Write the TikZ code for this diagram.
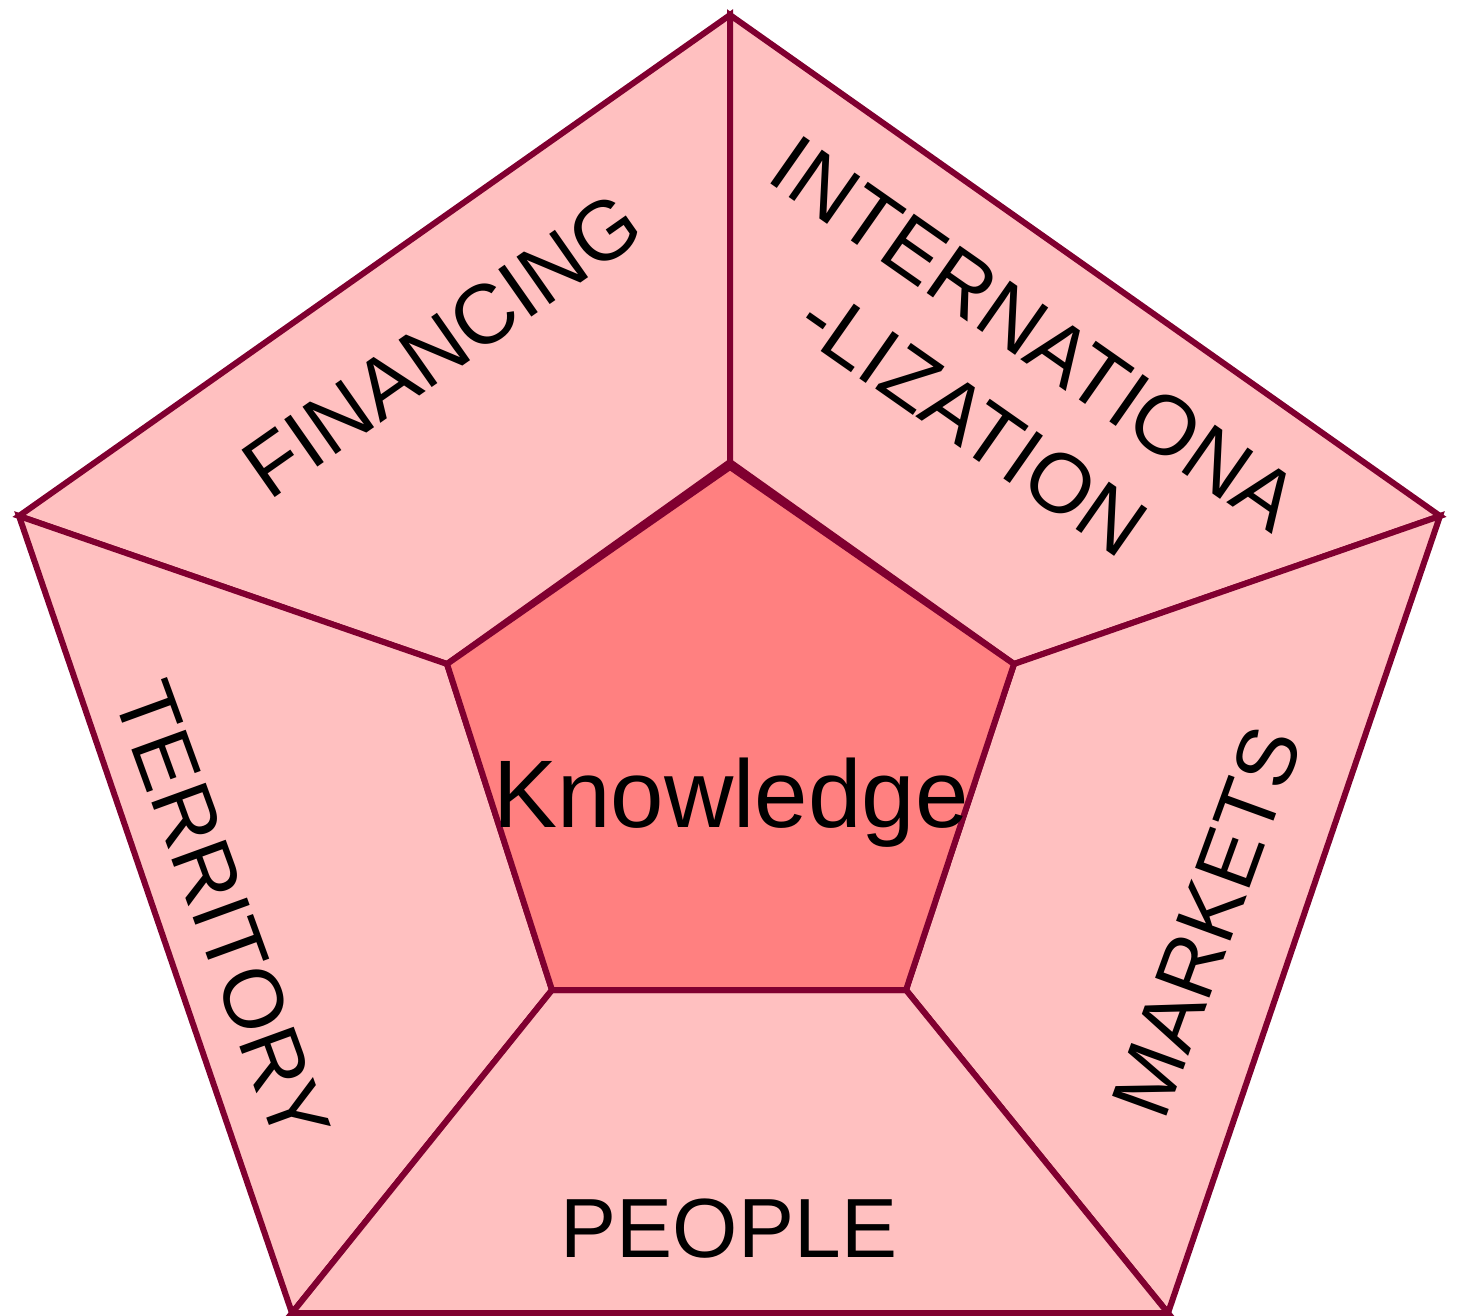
\documentclass[tikz,border=0pt]{standalone}
\usepackage{fontspec}
\setmainfont{Liberation Sans}
\definecolor{edge}{RGB}{128,0,48}
\definecolor{outerfill}{RGB}{255,192,192}
\definecolor{innerfill}{RGB}{255,128,128}
\begin{document}
\begin{tikzpicture}[x=1pt,y=-1pt,
  seg/.style={draw=edge,fill=outerfill,line width=6pt,line join=miter},
  core/.style={draw=edge,fill=innerfill,line width=6pt,line join=miter},
  lbl/.style={inner sep=0pt,font=\fontsize{84}{108}\selectfont,align=center},
  biglbl/.style={inner sep=0pt,font=\fontsize{96}{110}\selectfont}]
\useasboundingbox (0,0) rectangle (1459,1316);
% outer vertices
\coordinate (T) at (730,15);
\coordinate (L) at (19,516);
\coordinate (R) at (1440,516);
\coordinate (BL) at (292,1313);
\coordinate (BR) at (1168,1313);
% inner vertices
\coordinate (iT) at (730,467);
\coordinate (iTs) at (730,462);
\coordinate (iL) at (447,664);
\coordinate (iR) at (1014,664);
\coordinate (iBL) at (552,990);
\coordinate (iBR) at (906,990);
% segments
\draw[seg] (T) -- (L) -- (iL) -- (iTs) -- cycle;
\draw[seg] (T) -- (R) -- (iR) -- (iTs) -- cycle;
\draw[seg] (L) -- (iL) -- (iBL) -- (BL) -- cycle;
\draw[seg] (R) -- (iR) -- (iBR) -- (BR) -- cycle;
\draw[seg] (BL) -- (iBL) -- (iBR) -- (BR) -- cycle;
% core
\draw[core] (iT) -- (iR) -- (iBR) -- (iBL) -- (iL) -- cycle;
% labels
\node[biglbl,anchor=base] (know) at (731,827) {Knowledge};
\node[lbl,anchor=base] (people) at (729,1257) {PEOPLE};
\node[lbl,rotate=35] (fin) at (442,345) {FINANCING};
\node[lbl,rotate=-35] (intl) at (1004,378) {INTERNATIONA\\-LIZATION};
\node[lbl,rotate=-70] (terr) at (222,912) {TERRITORY};
\node[lbl,rotate=70] (mkt) at (1207,922) {MARKETS};
\end{tikzpicture}
\end{document}
